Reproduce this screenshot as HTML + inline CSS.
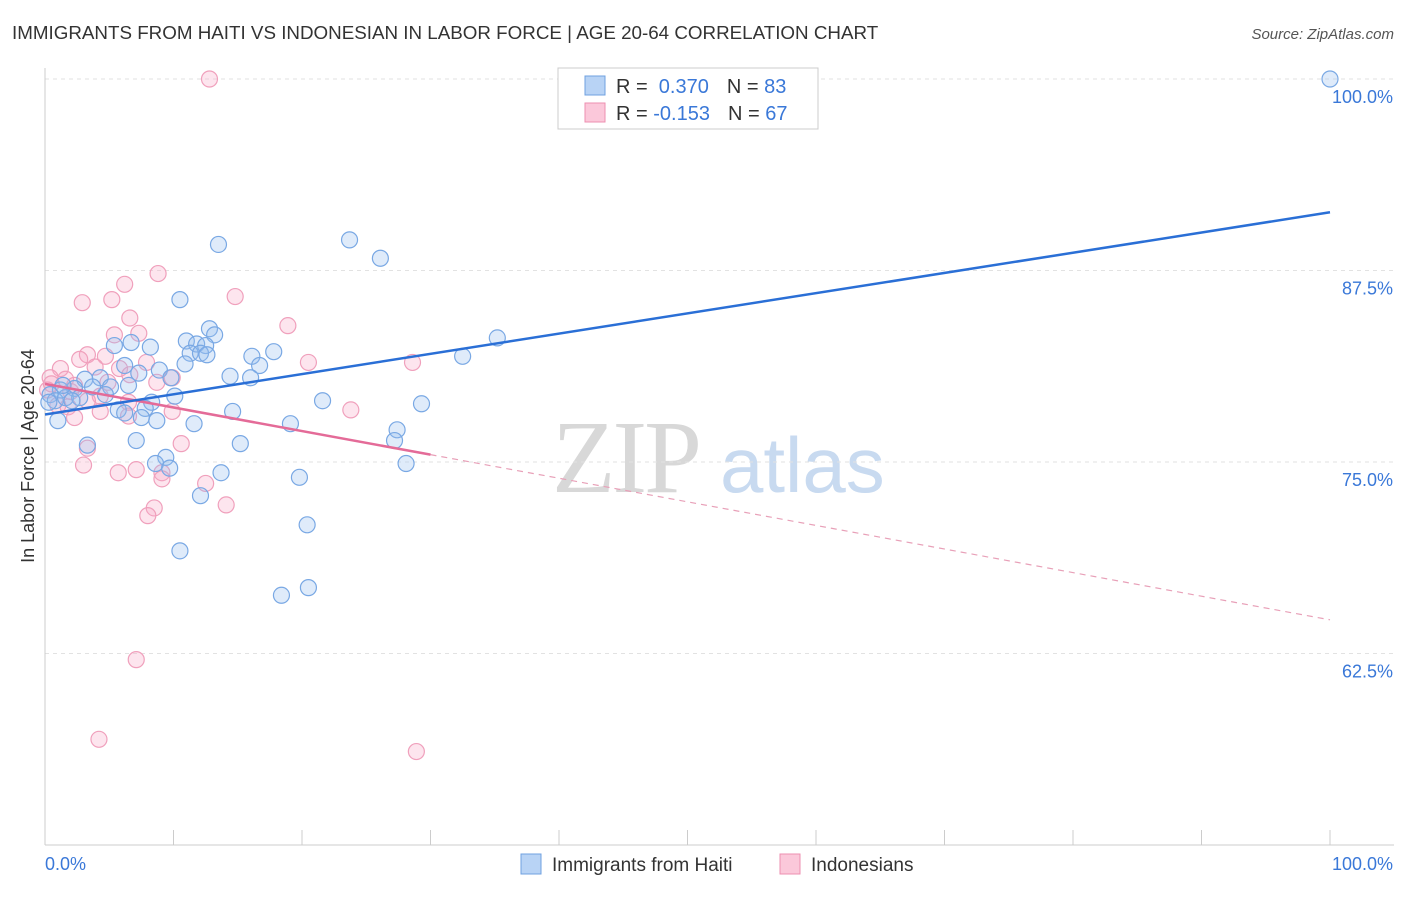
<!DOCTYPE html>
<html><head><meta charset="utf-8"><style>
body{margin:0;background:#fff;font-family:"Liberation Sans",sans-serif;}
</style></head><body>
<svg width="1406" height="892" xmlns="http://www.w3.org/2000/svg" font-family="Liberation Sans, sans-serif">
<text x="12" y="39" font-size="18.8" fill="#333">IMMIGRANTS FROM HAITI VS INDONESIAN IN LABOR FORCE | AGE 20-64 CORRELATION CHART</text>
<text x="1394" y="39" font-size="15" fill="#555" font-style="italic" text-anchor="end">Source: ZipAtlas.com</text>
<g>
<text x="552" y="492" font-size="104" fill="#d8d8d8" font-family="Liberation Serif, serif" letter-spacing="-3">ZIP</text>
<text x="720" y="492" font-size="78" fill="#c8daf0">atlas</text>
</g>
<g id="grid"></g>
<g id="axes"></g>
<g id="marks"></g>
<text transform="translate(34,456) rotate(-90)" font-size="18" fill="#333" text-anchor="middle">In Labor Force | Age 20-64</text>
<g>
<rect x="558" y="68" width="260" height="61" fill="#fff" stroke="#ccc"/>
<rect x="585" y="76" width="20" height="19" fill="#b8d3f5" stroke="#6fa0e0"/>
<rect x="585" y="103" width="20" height="19" fill="#fbc8da" stroke="#ee8fb0"/>
<text x="616" y="93" font-size="20" fill="#333">R = <tspan fill="#3a78d8">&#160;0.370</tspan><tspan dx="18">N = </tspan><tspan fill="#3a78d8">83</tspan></text>
<text x="616" y="120" font-size="20" fill="#333">R = <tspan fill="#3a78d8">-0.153</tspan><tspan dx="18">N = </tspan><tspan fill="#3a78d8">67</tspan></text>
</g>
<g>
<rect x="521" y="854" width="20" height="20" fill="#b8d3f5" stroke="#6fa0e0"/>
<text x="552" y="871" font-size="19" fill="#333">Immigrants from Haiti</text>
<rect x="780" y="854" width="20" height="20" fill="#fbc8da" stroke="#ee8fb0"/>
<text x="811" y="871" font-size="19" fill="#333">Indonesians</text>
</g>
</svg>
<script>
const yTicks=[100,87.5,75,62.5];
const yTickLabels=["100.0%","87.5%","75.0%","62.5%"];
const xTickCount=10;
const blueX=[100,23.7,26.1,13.5,10.5,35.2,32.5,12.8,13.2,11.0,11.8,12.5,11.3,12.1,12.6,16.1,17.8,10.9,16.7,8.2,6.7,5.4,6.2,8.9,7.3,14.4,16.0,9.8,4.3,3.1,6.5,5.1,3.7,2.3,1.2,0.4,0.8,1.6,2.7,4.7,10.1,8.3,7.8,5.7,6.2,14.6,21.6,29.3,1.0,7.5,8.7,11.6,19.1,27.4,27.2,7.1,15.2,3.3,9.4,8.6,9.7,28.1,13.7,19.8,12.1,20.4,10.5,20.5,18.4,0.3,2.1,1.4];
const blueY=[100,89.5,88.3,89.2,85.6,83.1,81.9,83.7,83.3,82.9,82.7,82.6,82.1,82.1,82.0,81.9,82.2,81.4,81.3,82.5,82.8,82.6,81.3,81.0,80.8,80.6,80.5,80.5,80.5,80.4,80.0,79.9,79.9,79.8,79.7,79.4,79.0,79.2,79.2,79.4,79.3,78.9,78.5,78.4,78.2,78.3,79.0,78.8,77.7,77.9,77.7,77.5,77.5,77.1,76.4,76.4,76.2,76.1,75.3,74.9,74.6,74.9,74.3,74.0,72.8,70.9,69.2,66.8,66.3,78.9,79.0,80.0];
const pinkX=[12.8,8.8,14.8,6.2,5.2,2.9,6.6,18.9,7.3,5.4,3.3,4.7,2.7,7.9,20.5,28.6,1.2,3.9,5.8,0.4,1.6,6.6,9.9,8.7,4.9,0.2,2.0,4.3,1.0,3.3,6.5,1.8,4.3,9.9,23.8,2.3,6.5,3.3,10.6,3.0,5.7,7.1,9.1,12.5,9.1,14.1,8.5,8.0,7.1,4.2,28.9,0.5,2.3];
const pinkY=[100,87.3,85.8,86.6,85.6,85.4,84.4,83.9,83.4,83.3,82.0,81.9,81.7,81.5,81.5,81.5,81.1,81.2,81.1,80.5,80.4,80.7,80.5,80.2,80.2,79.7,79.6,79.3,78.7,79.0,78.9,78.6,78.3,78.3,78.4,77.9,78.0,75.9,76.2,74.8,74.3,74.5,74.3,73.6,73.9,72.2,72.0,71.5,62.1,56.9,56.1,80.1,80.0];
const blueTrend=[78.1,91.3];
const pinkTrend=[80.1,64.7];
const pinkSolidEnd=30;

const NS="http://www.w3.org/2000/svg";
const X0=45,X1=1330;
const xs=v=>X0+(X1-X0)*v/100;
const ys=v=>79+(100-v)*15.32;
function mk(tag,attrs,parent){const e=document.createElementNS(NS,tag);for(const k in attrs)e.setAttribute(k,attrs[k]);document.getElementById(parent).appendChild(e);return e;}
yTicks.forEach((t,i)=>{
 const g=mk('line',{x1:X0,x2:1394,y1:ys(t),y2:ys(t),stroke:'#e2e2e2','stroke-dasharray':'4,4'},'grid');
 
 
 const l=mk('text',{x:1393,y:ys(t)+24,'font-size':18,fill:'#3a78d8','text-anchor':'end'},'axes');
 l.textContent=yTickLabels[i];
 
 
});
let a=mk('line',{x1:X0,x2:X0,y1:68,y2:845,stroke:'#ccc'},'axes');


a=mk('line',{x1:X0,x2:1394,y1:845,y2:845,stroke:'#ccc'},'axes');


for(let i=0;i<=xTickCount;i++){
 const t=mk('line',{x1:xs(i*10),x2:xs(i*10),y1:830,y2:845,stroke:'#ccc'},'axes');
 
 
}
let xl=mk('text',{x:45,y:870,'font-size':18,fill:'#3a78d8'},'axes');xl.textContent='0.0%';


xl=mk('text',{x:1393,y:870,'font-size':18,fill:'#3a78d8','text-anchor':'end'},'axes');xl.textContent='100.0%';



pinkX.forEach((v,i)=>{
 const c=mk('circle',{cx:xs(v),cy:ys(pinkY[i]),r:8,fill:'rgba(248,170,198,0.3)',stroke:'#f0a0bc','stroke-width':1.2},'marks');
 
 
});
blueX.forEach((v,i)=>{
 const c=mk('circle',{cx:xs(v),cy:ys(blueY[i]),r:8,fill:'rgba(150,190,240,0.3)',stroke:'#79a8e4','stroke-width':1.2},'marks');
 
 
});
const pm=pinkTrend[0]+(pinkTrend[1]-pinkTrend[0])*pinkSolidEnd/100;
let ln=mk('line',{x1:xs(pinkSolidEnd),y1:ys(pm),x2:xs(100),y2:ys(pinkTrend[1]),stroke:'#e8a0b8','stroke-width':1.2,'stroke-dasharray':'6,5'},'marks');


ln=mk('line',{x1:xs(0),y1:ys(pinkTrend[0]),x2:xs(pinkSolidEnd),y2:ys(pm),stroke:'#e46b98','stroke-width':2.5},'marks');


ln=mk('line',{x1:xs(0),y1:ys(blueTrend[0]),x2:xs(100),y2:ys(blueTrend[1]),stroke:'#2a6fd6','stroke-width':2.5},'marks');


</script>
</body></html>
